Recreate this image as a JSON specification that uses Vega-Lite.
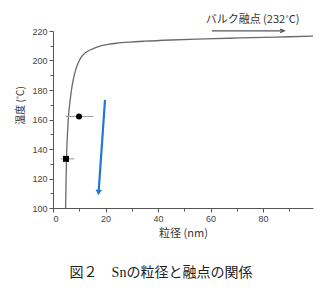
{
  "$schema": "https://vega.github.io/schema/vega-lite/v6.json",
  "width": 260,
  "height": 177,
  "autosize": {"type": "none"},
  "padding": {"left": 53, "top": 31, "right": 15, "bottom": 88},
  "background": "white",
  "config": {"view": {"stroke": null}, "axis": {"labelOverlap": false, "grid": false, "domainColor": "#555", "tickColor": "#555"}},
  "resolve": {"axis": {"x": "independent", "y": "independent"}},
  "title": {
    "text": "図２　Snの粒径と融点の関係",
    "orient": "bottom",
    "anchor": "middle",
    "offset": 28,
    "dx": -22,
    "font": "Liberation Serif, Noto Sans CJK JP",
    "fontSize": 14,
    "fontWeight": "normal",
    "color": "#222"
  },
  "datasets": {
    "curve": [
      {"d": 4.8, "t": 100}, {"d": 5.0, "t": 120}, {"d": 5.2, "t": 137}, {"d": 5.5, "t": 150},
      {"d": 5.8, "t": 160}, {"d": 6.2, "t": 168}, {"d": 6.7, "t": 175.5}, {"d": 7.2, "t": 182},
      {"d": 7.7, "t": 186.8}, {"d": 8.3, "t": 191.5}, {"d": 9.0, "t": 195.8}, {"d": 10.0, "t": 199.8},
      {"d": 10.9, "t": 202.6}, {"d": 12.3, "t": 205.2}, {"d": 14.1, "t": 207.1}, {"d": 16.0, "t": 208.6},
      {"d": 17.9, "t": 209.8}, {"d": 21.0, "t": 210.9}, {"d": 24.2, "t": 211.7}, {"d": 29.4, "t": 212.5},
      {"d": 35.0, "t": 213.1}, {"d": 45.0, "t": 213.9}, {"d": 54.8, "t": 214.5}, {"d": 67.0, "t": 215.1},
      {"d": 80.2, "t": 215.7}, {"d": 90.0, "t": 216.1}, {"d": 99.0, "t": 216.5}
    ],
    "points": [
      {"d": 9.9, "lo": 4.9, "hi": 15.3, "t": 162, "kind": "circle"},
      {"d": 4.95, "lo": 2.9, "hi": 8.0, "t": 133.3, "kind": "square"}
    ],
    "blue": [
      {"d": 19.8, "t": 173.3},
      {"d": 17.4, "t": 111.5}
    ],
    "bluehead": [
      {"d": 17.35, "t": 110.5}
    ],
    "bulk": [
      {"d": 60.5, "d2": 88.0, "t": 220.1}
    ],
    "bulkhead": [
      {"d": 88.0, "t": 220.1}
    ],
    "label": [
      {"d": 76.0, "t": 227.5, "text": "バルク融点 (232˚C)"}
    ]
  },
  "layer": [
    {
      "data": {"name": "curve"},
      "mark": {"type": "line", "color": "#6a6a6a", "strokeWidth": 1.3, "interpolate": "monotone"},
      "encoding": {
        "x": {
          "field": "d", "type": "quantitative",
          "scale": {"domain": [0, 99], "nice": false, "zero": false},
          "axis": {
            "orient": "bottom",
            "title": "粒径 (nm)",
            "values": [0, 20, 40, 60, 80],
            "tickSize": 4,
            "labelColor": "#444",
            "labelFont": "Liberation Sans",
            "labelFontSize": 9,
            "labelPadding": 2,
            "titleFont": "Noto Sans CJK JP",
            "titleFontSize": 11,
            "titleFontWeight": "normal",
            "titleColor": "#333",
            "titlePadding": 4
          }
        },
        "y": {
          "field": "t", "type": "quantitative",
          "scale": {"domain": [100, 220], "nice": false, "zero": false},
          "axis": {
            "orient": "left",
            "title": "温度 (˚C)",
            "values": [100, 120, 140, 160, 180, 200, 220],
            "tickSize": 4,
            "labelColor": "#444",
            "labelFont": "Liberation Sans",
            "labelFontSize": 9,
            "labelPadding": 2,
            "titleFont": "Noto Sans CJK JP",
            "titleFontSize": 10,
            "titleFontWeight": "normal",
            "titleColor": "#333",
            "titleX": -33,
            "titleY": 74,
            "titleAngle": -90,
            "titleAlign": "center",
            "titleBaseline": "middle"
          }
        }
      }
    },
    {
      "data": {"name": "points"},
      "mark": {"type": "rule", "color": "#999", "strokeWidth": 1},
      "encoding": {
        "x": {"field": "lo", "type": "quantitative",
          "axis": {"orient": "bottom", "values": [10, 30, 50, 70, 90], "labels": false, "domain": false, "tickSize": 3, "title": null}},
        "x2": {"field": "hi"},
        "y": {"field": "t", "type": "quantitative",
          "axis": {"orient": "left", "values": [110, 130, 150, 170, 190, 210], "labels": false, "domain": false, "tickSize": 3, "title": null}}
      }
    },
    {
      "data": {"name": "points"},
      "mark": {"type": "point", "filled": true, "color": "#000", "opacity": 1, "size": 36},
      "encoding": {
        "x": {"field": "d", "type": "quantitative", "axis": null},
        "y": {"field": "t", "type": "quantitative", "axis": null},
        "shape": {"field": "kind", "type": "nominal", "scale": {"domain": ["circle", "square"], "range": ["circle", "square"]}, "legend": null}
      }
    },
    {
      "data": {"name": "blue"},
      "mark": {"type": "line", "color": "#1f78d1", "strokeWidth": 2.2},
      "encoding": {
        "x": {"field": "d", "type": "quantitative", "axis": null},
        "y": {"field": "t", "type": "quantitative", "axis": null}
      }
    },
    {
      "data": {"name": "bluehead"},
      "mark": {"type": "point", "shape": "triangle-down", "filled": true, "color": "#1f78d1", "opacity": 1, "size": 40, "angle": 4},
      "encoding": {
        "x": {"field": "d", "type": "quantitative", "axis": null},
        "y": {"field": "t", "type": "quantitative", "axis": null}
      }
    },
    {
      "data": {"name": "bulk"},
      "mark": {"type": "rule", "color": "#555", "strokeWidth": 1.3},
      "encoding": {
        "x": {"field": "d", "type": "quantitative", "axis": null},
        "x2": {"field": "d2"},
        "y": {"field": "t", "type": "quantitative", "axis": null}
      }
    },
    {
      "data": {"name": "bulkhead"},
      "mark": {"type": "point", "shape": "M-1,-0.45L0,0L-1,0.45", "filled": false, "stroke": "#555", "strokeWidth": 1.3, "opacity": 1, "size": 60},
      "encoding": {
        "x": {"field": "d", "type": "quantitative", "axis": null},
        "y": {"field": "t", "type": "quantitative", "axis": null}
      }
    },
    {
      "data": {"name": "label"},
      "mark": {"type": "text", "font": "Noto Sans CJK JP", "fontSize": 11, "color": "#333", "align": "center", "baseline": "middle"},
      "encoding": {
        "x": {"field": "d", "type": "quantitative", "axis": null},
        "y": {"field": "t", "type": "quantitative", "axis": null},
        "text": {"field": "text"}
      }
    }
  ]
}
